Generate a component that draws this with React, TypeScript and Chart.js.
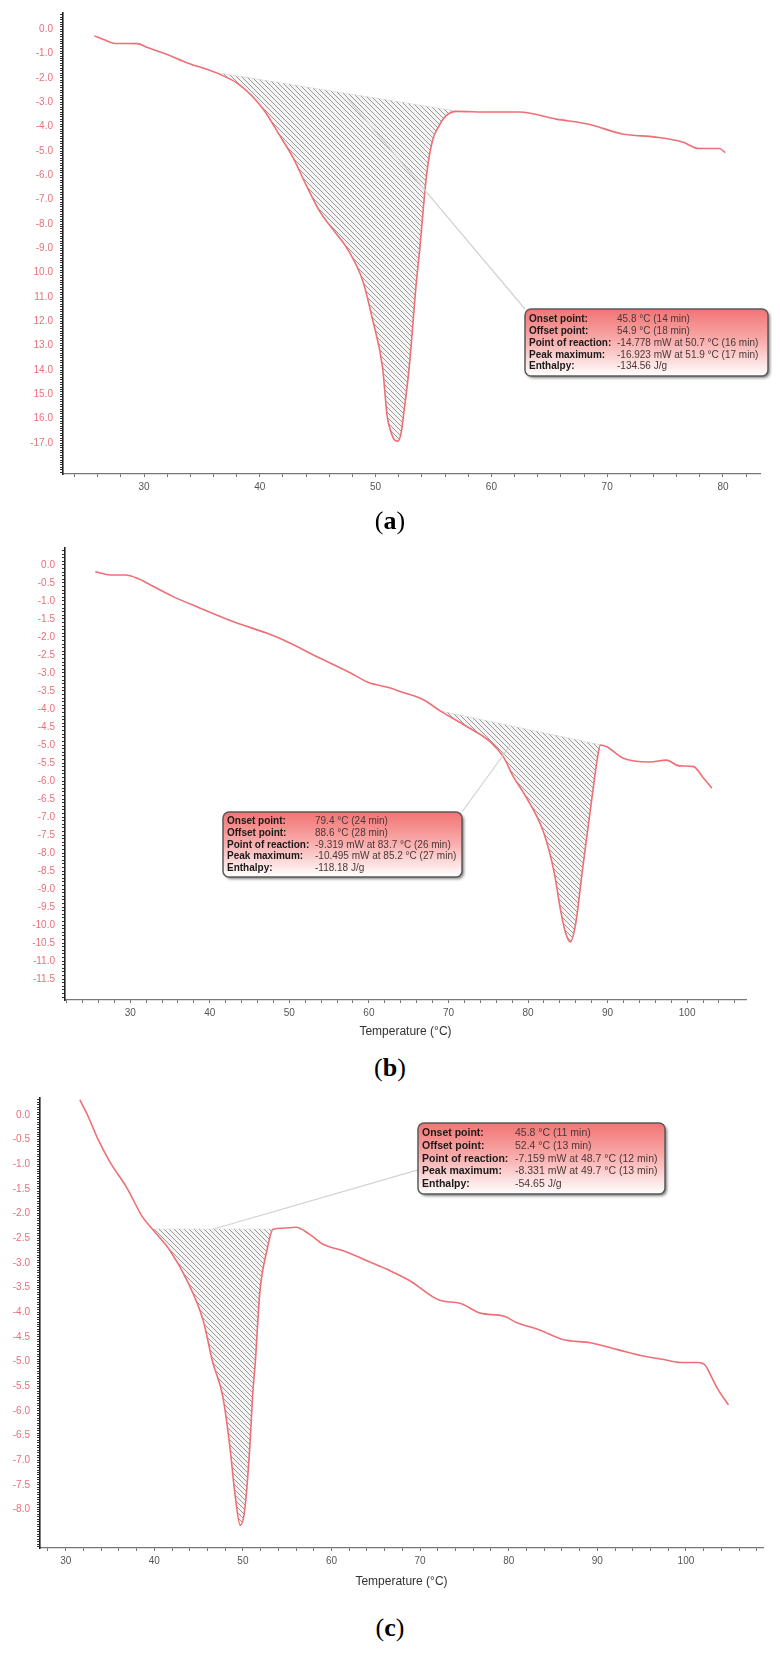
import React, { useEffect, useRef } from 'react';
import { Chart, registerables } from 'chart.js';

Chart.register(...registerables);
Chart.defaults.font.family = '"Liberation Sans", Arial, sans-serif';

// ---------- Panel (a) ----------
const tempA = [25.7, 26.5, 27.5, 29.4, 30.3, 32.0, 33.7, 35.4, 36.2, 38.3, 40.3, 41.7, 42.9, 44.0, 45.2, 46.6, 47.6, 48.9, 49.7, 50.6, 51.0, 51.3, 51.6, 51.9, 52.2, 52.4, 52.9, 53.5, 53.8, 54.4, 54.9, 55.5, 56.1, 57.0, 59.8, 62.4, 65.6, 68.4, 71.3, 74.2, 76.5, 77.9, 79.7, 80.2];
const heatA = [-0.27, -0.42, -0.58, -0.59, -0.75, -1.03, -1.37, -1.64, -1.78, -2.3, -3.28, -4.35, -5.3, -6.4, -7.5, -8.4, -9.05, -10.35, -11.85, -13.9, -15.9, -16.5, -16.85, -16.92, -16.6, -15.9, -13.9, -10.5, -9.1, -6.0, -4.6, -3.95, -3.55, -3.37, -3.4, -3.4, -3.69, -3.9, -4.3, -4.43, -4.63, -4.9, -4.9, -5.07];
const baseTempA = [36.2, 57.0];
const baseHeatA = [-1.78, -3.37];
const xLabelsA = [30, 40, 50, 60, 70, 80];
const yLabelValsA = [0, -1, -2, -3, -4, -5, -6, -7, -8, -9, -10, -11, -12, -13, -14, -15, -16, -17];
const yLabelTextA = ['0.0', '-1.0', '-2.0', '-3.0', '-4.0', '-5.0', '-6.0', '-7.0', '-8.0', '-9.0', '10.0', '11.0', '12.0', '13.0', '14.0', '15.0', '16.0', '-17.0'];
const infoLabelsA = ['Onset point:', 'Offset point:', 'Point of reaction:', 'Peak maximum:', 'Enthalpy:'];
const infoValuesA = ['45.8 °C (14 min)', '54.9 °C (18 min)', '-14.778 mW at 50.7 °C (16 min)', '-16.923 mW at 51.9 °C (17 min)', '-134.56 J/g'];
const leaderA = [47.5, -2.8];

// ---------- Panel (b) ----------
const tempB = [25.6, 27.5, 29.4, 30.9, 32.5, 35.4, 38.8, 43.0, 47.2, 49.2, 53.5, 57.7, 59.8, 62.7, 64.0, 66.9, 69.0, 72.4, 75.3, 76.9, 78.2, 79.5, 82.0, 83.3, 84.1, 84.7, 85.3, 86.0, 86.8, 87.6, 88.2, 88.7, 89.1, 89.9, 91.9, 95.3, 97.4, 99.0, 100.8, 102.0, 103.1];
const heatB = [-0.19, -0.28, -0.28, -0.37, -0.55, -0.88, -1.2, -1.58, -1.9, -2.08, -2.55, -3.0, -3.25, -3.42, -3.52, -3.75, -4.06, -4.5, -4.92, -5.33, -5.9, -6.35, -7.45, -8.55, -9.6, -10.2, -10.47, -9.95, -8.55, -7.2, -6.2, -5.4, -5.0, -5.05, -5.36, -5.47, -5.42, -5.58, -5.6, -5.9, -6.2];
const baseTempB = [69.0, 89.1];
const baseHeatB = [-4.06, -5.0];
const xLabelsB = [30, 40, 50, 60, 70, 80, 90, 100];
const yLabelValsB = [0, -0.5, -1, -1.5, -2, -2.5, -3, -3.5, -4, -4.5, -5, -5.5, -6, -6.5, -7, -7.5, -8, -8.5, -9, -9.5, -10, -10.5, -11, -11.5];
const yLabelTextB = ['0.0', '-0.5', '-1.0', '-1.5', '-2.0', '-2.5', '-3.0', '-3.5', '-4.0', '-4.5', '-5.0', '-5.5', '-6.0', '-6.5', '-7.0', '-7.5', '-8.0', '-8.5', '-9.0', '-9.5', '-10.0', '-10.5', '-11.0', '-11.5'];
const infoLabelsB = ['Onset point:', 'Offset point:', 'Point of reaction:', 'Peak maximum:', 'Enthalpy:'];
const infoValuesB = ['79.4 °C (24 min)', '88.6 °C (28 min)', '-9.319 mW at 83.7 °C (26 min)', '-10.495 mW at 85.2 °C (27 min)', '-118.18 J/g'];
const leaderB = [77.8, -5.0];

// ---------- Panel (c) ----------
const tempC = [31.6, 32.5, 33.6, 35.0, 36.9, 38.7, 39.8, 41.8, 43.7, 45.5, 46.6, 47.7, 48.5, 49.1, 49.7, 50.2, 50.8, 51.1, 51.4, 51.9, 52.7, 53.4, 54.5, 56.0, 57.5, 59.0, 61.7, 64.0, 66.6, 68.8, 72.2, 74.5, 76.8, 79.4, 81.0, 83.5, 86.2, 89.2, 92.3, 94.9, 97.5, 99.4, 101.3, 102.2, 102.8, 103.6, 104.8];
const heatC = [0.3, -0.02, -0.48, -0.96, -1.48, -2.08, -2.32, -2.76, -3.36, -4.16, -5.02, -5.68, -6.68, -7.68, -8.32, -8.02, -6.68, -5.68, -5.02, -3.62, -2.76, -2.32, -2.3, -2.28, -2.42, -2.62, -2.78, -2.96, -3.16, -3.36, -3.76, -3.82, -4.02, -4.08, -4.22, -4.36, -4.56, -4.62, -4.76, -4.88, -4.96, -5.02, -5.02, -5.08, -5.28, -5.56, -5.88];
const baseTempC = [39.8, 53.4];
const baseHeatC = [-2.32, -2.32];
const xLabelsC = [30, 40, 50, 60, 70, 80, 90, 100];
const yLabelValsC = [0, -0.5, -1, -1.5, -2, -2.5, -3, -3.5, -4, -4.5, -5, -5.5, -6, -6.5, -7, -7.5, -8];
const yLabelTextC = ['0.0', '-0.5', '-1.0', '-1.5', '-2.0', '-2.5', '-3.0', '-3.5', '-4.0', '-4.5', '-5.0', '-5.5', '-6.0', '-6.5', '-7.0', '-7.5', '-8.0'];
const infoLabelsC = ['Onset point:', 'Offset point:', 'Point of reaction:', 'Peak maximum:', 'Enthalpy:'];
const infoValuesC = ['45.8 °C (11 min)', '52.4 °C (13 min)', '-7.159 mW at 48.7 °C (12 min)', '-8.331 mW at 49.7 °C (13 min)', '-54.65 J/g'];
const leaderC = [46.6, -2.32];

const xAxisTitle = 'Temperature (°C)';

const W = 780;
const RED = '#ee6f76';
const YLABEL = '#e8707a';

type Panel = {
  top: number; height: number; scaleBottom: number;
  area: { left: number; top: number; right: number; bottom: number };
  xMin: number; xMax: number; yMin: number; yMax: number; yStep: number;
  temps: number[]; heats: number[]; baseT: number[]; baseH: number[];
  xLabels: number[]; yVals: number[]; yText: string[];
  title: string | null;
  labels: string[]; values: string[]; leader: number[];
  box: { x: number; y: number; w: number; h: number; rowY: number; rowH: number; labelX: number; valueX: number; font: number };
  anchor: number[];
};

const panels: Panel[] = [
  {
    top: 0, height: 505, scaleBottom: 505,
    area: { left: 63, top: 10, right: 760, bottom: 474 },
    xMin: 23.0, xMax: 83.2, yMin: -18.27, yMax: 0.67, yStep: 0.1,
    temps: tempA, heats: heatA, baseT: baseTempA, baseH: baseHeatA,
    xLabels: xLabelsA, yVals: yLabelValsA, yText: yLabelTextA, title: null,
    labels: infoLabelsA, values: infoValuesA, leader: leaderA,
    box: { x: 525, y: 309, w: 243, h: 67, rowY: 319.5, rowH: 11.8, labelX: 529, valueX: 617, font: 10 },
    anchor: [0, 0],
  },
  {
    top: 530, height: 515, scaleBottom: 509,
    area: { left: 65, top: 18, right: 746, bottom: 470 },
    xMin: 21.8, xMax: 107.4, yMin: -12.08, yMax: 0.47, yStep: 0.1,
    temps: tempB, heats: heatB, baseT: baseTempB, baseH: baseHeatB,
    xLabels: xLabelsB, yVals: yLabelValsB, yText: yLabelTextB, title: xAxisTitle,
    labels: infoLabelsB, values: infoValuesB, leader: leaderB,
    box: { x: 223, y: 282, w: 239, h: 65, rowY: 291.5, rowH: 11.7, labelX: 227, valueX: 315, font: 10 },
    anchor: [1, 0],
  },
  {
    top: 1085, height: 515, scaleBottom: 504,
    area: { left: 40, top: 7, right: 763, bottom: 463 },
    xMin: 27.1, xMax: 108.7, yMin: -8.78, yMax: 0.34, yStep: 0.05,
    temps: tempC, heats: heatC, baseT: baseTempC, baseH: baseHeatC,
    xLabels: xLabelsC, yVals: yLabelValsC, yText: yLabelTextC, title: xAxisTitle,
    labels: infoLabelsC, values: infoValuesC, leader: leaderC,
    box: { x: 418, y: 38, w: 247, h: 71, rowY: 48.5, rowH: 12.7, labelX: 422, valueX: 515, font: 10.5 },
    anchor: [0, 0.66],
  },
];

function makeHatch(): CanvasPattern | string {
  const s = 5;
  const c = document.createElement('canvas');
  c.width = s; c.height = s;
  const g = c.getContext('2d');
  if (!g) return '#ccc';
  g.fillStyle = '#f4f4f4';
  g.fillRect(0, 0, s, s);
  g.strokeStyle = '#9a9a9a';
  g.lineWidth = 1;
  g.beginPath();
  g.moveTo(-1, -1); g.lineTo(s + 1, s + 1);
  g.moveTo(-1, s - 1); g.lineTo(1, s + 1);
  g.moveTo(s - 1, -1); g.lineTo(s + 1, 1);
  g.stroke();
  const p = g.createPattern(c, 'repeat');
  return p || '#ccc';
}

function boxPlugin(p: Panel) {
  return {
    id: 'dscBox',
    afterDraw(chart: any) {
      const ctx = chart.ctx as CanvasRenderingContext2D;
      const xs = chart.scales.x;
      const ys = chart.scales.y;
      const b = p.box;
      ctx.save();
      ctx.strokeStyle = '#d2d2d2';
      ctx.lineWidth = 1.2;
      ctx.beginPath();
      ctx.moveTo(xs.getPixelForValue(p.leader[0]), ys.getPixelForValue(p.leader[1]));
      ctx.lineTo(b.x + p.anchor[0] * b.w, b.y + p.anchor[1] * b.h);
      ctx.stroke();
      ctx.save();
      ctx.shadowColor = 'rgba(0,0,0,0.5)';
      ctx.shadowBlur = 3;
      ctx.shadowOffsetX = 2;
      ctx.shadowOffsetY = 2;
      ctx.beginPath();
      (ctx as any).roundRect(b.x, b.y, b.w, b.h, 6);
      ctx.fillStyle = '#ffffff';
      ctx.fill();
      ctx.restore();
      const grad = ctx.createLinearGradient(0, b.y, 0, b.y + b.h);
      grad.addColorStop(0, '#f27474');
      grad.addColorStop(0.45, '#f8a9a9');
      grad.addColorStop(1, '#ffffff');
      ctx.beginPath();
      (ctx as any).roundRect(b.x, b.y, b.w, b.h, 6);
      ctx.fillStyle = grad;
      ctx.fill();
      ctx.strokeStyle = '#5a5a5a';
      ctx.lineWidth = 1.5;
      ctx.stroke();
      ctx.textBaseline = 'middle';
      ctx.textAlign = 'left';
      p.labels.forEach((lab, i) => {
        const y = b.rowY + i * b.rowH;
        ctx.font = `bold ${b.font}px "Liberation Sans", Arial, sans-serif`;
        ctx.fillStyle = '#1a1a1a';
        ctx.fillText(lab, b.labelX, y, b.valueX - b.labelX - 2);
        ctx.font = `${b.font}px "Liberation Sans", Arial, sans-serif`;
        ctx.fillStyle = '#4a3838';
        ctx.fillText(p.values[i], b.valueX, y, b.x + b.w - b.valueX - 4);
      });
      ctx.restore();
    },
  };
}

function buildChart(canvas: HTMLCanvasElement, p: Panel) {
  const pts = p.temps.map((t, i) => ({ x: t, y: p.heats[i] }));
  const peak = pts.filter((q) => q.x >= p.baseT[0] - 1e-9 && q.x <= p.baseT[1] + 1e-9);
  const base = p.baseT.map((t, i) => ({ x: t, y: p.baseH[i] }));
  const xTicks: number[] = [];
  for (let v = Math.ceil(p.xMin / 2) * 2; v <= p.xMax; v += 2) xTicks.push(v);
  const yTicks: number[] = [];
  const n0 = Math.ceil(p.yMin / p.yStep - 1e-6);
  const n1 = Math.floor(p.yMax / p.yStep + 1e-6);
  for (let k = n0; k <= n1; k++) yTicks.push(Math.round(k * p.yStep * 1000) / 1000);
  const hatch = makeHatch();

  return new Chart(canvas, {
    type: 'line',
    data: {
      datasets: [
        { data: pts, borderColor: RED, borderWidth: 1.6, pointRadius: 0, fill: false, cubicInterpolationMode: 'monotone' },
        { data: peak, borderColor: 'rgba(0,0,0,0)', borderWidth: 0, pointRadius: 0, fill: '+1', backgroundColor: hatch as any, cubicInterpolationMode: 'monotone' },
        { data: base, borderColor: 'rgba(150,150,150,0.5)', borderWidth: 0.8, pointRadius: 0, fill: false },
      ],
    } as any,
    options: {
      responsive: false,
      animation: false,
      events: [],
      layout: { padding: { left: 0, top: p.area.top, right: W - p.area.right, bottom: p.height - p.scaleBottom } },
      plugins: { legend: { display: false }, tooltip: { enabled: false } },
      scales: {
        x: {
          type: 'linear', min: p.xMin, max: p.xMax,
          afterFit: (s: any) => { s.height = p.scaleBottom - p.area.bottom; },
          afterBuildTicks: (s: any) => { s.ticks = xTicks.map((v) => ({ value: v })); },
          ticks: {
            autoSkip: false, maxRotation: 0, minRotation: 0, padding: 4, color: '#555', font: { size: 10 },
            callback: (v: any) => (p.xLabels.indexOf(Number(v)) >= 0 ? String(v) : ''),
          },
          grid: { drawOnChartArea: false, tickLength: 3, color: '#777' },
          border: { display: true, color: '#777', width: 1.2 },
          title: p.title
            ? { display: true, text: p.title, color: '#333', font: { size: 12 }, padding: { top: 0, bottom: 0 } }
            : { display: false },
        },
        y: {
          type: 'linear', min: p.yMin, max: p.yMax,
          afterFit: (s: any) => { s.width = p.area.left; },
          afterBuildTicks: (s: any) => { s.ticks = yTicks.map((v) => ({ value: v })); },
          ticks: {
            autoSkip: false, padding: 7, color: YLABEL, font: { size: 10 },
            callback: (v: any) => {
              const i = p.yVals.findIndex((q) => Math.abs(q - Number(v)) < 1e-6);
              return i >= 0 ? p.yText[i] : '';
            },
          },
          grid: { drawOnChartArea: false, tickLength: 3, color: '#333' },
          border: { display: true, color: '#222', width: 1.6 },
        },
      },
    } as any,
    plugins: [boxPlugin(p)],
  });
}

function PanelChart({ p }: { p: Panel }) {
  const ref = useRef<HTMLCanvasElement | null>(null);
  useEffect(() => {
    if (!ref.current) return;
    const chart = buildChart(ref.current, p);
    return () => chart.destroy();
  }, [p]);
  return (
    <canvas
      ref={ref}
      width={W}
      height={p.height}
      style={{ position: 'absolute', left: 0, top: p.top, width: W, height: p.height, display: 'block' }}
    />
  );
}

const captions = [
  { letter: 'a', center: 521 },
  { letter: 'b', center: 1068 },
  { letter: 'c', center: 1628 },
];

export default function App() {
  return (
    <div style={{ position: 'absolute', left: 0, top: 0, width: W, height: 1656, background: '#fff', overflow: 'hidden' }}>
      {panels.map((p, i) => (
        <PanelChart key={i} p={p} />
      ))}
      {captions.map((c) => (
        <div
          key={c.letter}
          style={{
            position: 'absolute', left: 0, width: W, top: c.center - 16, height: 32, lineHeight: '32px',
            textAlign: 'center', fontFamily: '"Liberation Serif", "Times New Roman", serif', fontSize: 26, color: '#000',
          }}
        >
          (<b>{c.letter}</b>)
        </div>
      ))}
    </div>
  );
}
